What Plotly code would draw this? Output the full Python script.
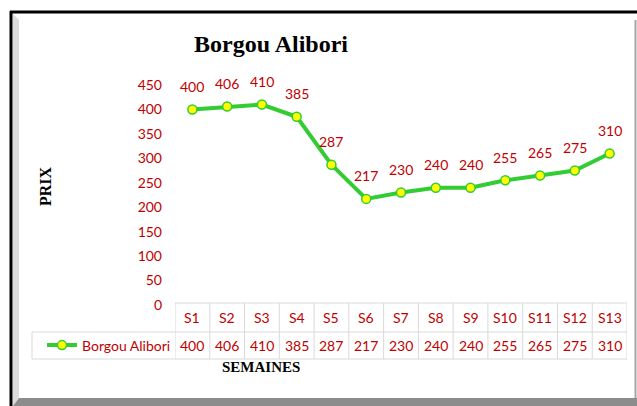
import plotly.graph_objects as go

# ---- data ----
categories = ["S1", "S2", "S3", "S4", "S5", "S6", "S7", "S8", "S9", "S10", "S11", "S12", "S13"]
values = [400, 406, 410, 385, 287, 217, 230, 240, 240, 255, 265, 275, 310]
series_name = "Borgou Alibori"
title_text = "Borgou Alibori"
y_title = "PRIX"
x_title = "SEMAINES"
y_ticks = [0, 50, 100, 150, 200, 250, 300, 350, 400, 450]

# ---- layout constants (pixels) ----
W, H = 637, 406
L, R, T, B = 175, 10, 85, 101
PW, PH = W - L - R, H - T - B
RED = "#C00000"
GREEN = "#33CC33"
GRID = "#D9D9D9"
SANS = "Lato, 'Noto Sans', sans-serif"
SERIF = "'Liberation Serif', 'DejaVu Serif', serif"


def px(p):
    return (p - L) / PW


def py(p):
    return (H - B - p) / PH


fig = go.Figure()
fig.add_trace(go.Scatter(
    x=categories, y=values, name=series_name, mode="lines+markers",
    line=dict(color=GREEN, width=4),
    marker=dict(size=9, color="#FFFF00", line=dict(color=GREEN, width=1.5)),
    cliponaxis=False,
))

shapes = []
# outer frame
shapes.append(dict(type="line", xref="paper", yref="paper", x0=px(10), x1=px(637), y0=py(12), y1=py(12),
                   line=dict(color="black", width=3)))
shapes.append(dict(type="line", xref="paper", yref="paper", x0=px(11), x1=px(11), y0=py(11), y1=py(406),
                   line=dict(color="black", width=3)))
shapes.append(dict(type="path", xref="paper", yref="paper",
                   path=f"M{px(13)},{py(14)} L{px(19)},{py(20)} L{px(19)},{py(398)} L{px(13)},{py(406)} Z",
                   fillcolor="#DCDCDC", line=dict(width=0)))
shapes.append(dict(type="path", xref="paper", yref="paper",
                   path=f"M{px(13)},{py(406)} L{px(19)},{py(398)} L{px(637)},{py(398)} L{px(637)},{py(406)} Z",
                   fillcolor="#8C8C8C", line=dict(width=0)))
shapes.append(dict(type="line", xref="paper", yref="paper", x0=px(635.5), x1=px(635.5), y0=py(20), y1=py(398),
                   line=dict(color="#A6A6A6", width=2)))

# data table grid
for yy, x0 in [(303, 175), (332, 32), (359, 32)]:
    shapes.append(dict(type="line", xref="paper", yref="paper", x0=px(x0), x1=px(627), y0=py(yy), y1=py(yy),
                       line=dict(color=GRID, width=1)))
shapes.append(dict(type="line", xref="paper", yref="paper", x0=px(32), x1=px(32), y0=py(332), y1=py(359),
                   line=dict(color=GRID, width=1)))
for k in range(len(categories) + 1):
    shapes.append(dict(type="line", xref="x", yref="paper", x0=k - 0.5, x1=k - 0.5, y0=py(303), y1=py(359),
                       line=dict(color=GRID, width=1)))

annotations = []
# data labels
for c, v in zip(categories, values):
    annotations.append(dict(x=c, y=v, text=str(v), showarrow=False, yshift=23,
                            xanchor="center", yanchor="middle",
                            font=dict(family=SANS, size=14, color=RED)))
# table text
for c, v in zip(categories, values):
    annotations.append(dict(x=c, xref="x", y=py(317.5), yref="paper", text=c, showarrow=False,
                            xanchor="center", yanchor="middle",
                            font=dict(family=SANS, size=14, color=RED)))
    annotations.append(dict(x=c, xref="x", y=py(345.5), yref="paper", text=str(v), showarrow=False,
                            xanchor="center", yanchor="middle",
                            font=dict(family=SANS, size=14, color=RED)))
# axis titles
annotations.append(dict(x=px(45), xref="paper", y=py(186), yref="paper", text=f"<b>{y_title}</b>",
                        textangle=-90, showarrow=False, xanchor="center", yanchor="middle",
                        font=dict(family=SERIF, size=16, color="black")))
annotations.append(dict(x=px(261), xref="paper", y=py(367), yref="paper", text=f"<b>{x_title}</b>",
                        showarrow=False, xanchor="center", yanchor="middle",
                        font=dict(family=SERIF, size=15, color="black")))

fig.update_layout(
    width=W, height=H,
    margin=dict(l=L, r=R, t=T, b=B),
    paper_bgcolor="white", plot_bgcolor="white",
    title=dict(text=f"<b>{title_text}</b>", x=271 / W, y=1 - 44 / H, xanchor="center", yanchor="middle",
               xref="container", yref="container",
               font=dict(family=SERIF, size=24, color="black")),
    xaxis=dict(range=[-0.5, len(categories) - 0.5], visible=False, fixedrange=True),
    yaxis=dict(range=[0, 450], tickvals=y_ticks, showgrid=False, zeroline=False, showline=False,
               ticks="", ticklabelstandoff=12, fixedrange=True,
               tickfont=dict(family=SANS, size=14, color=RED)),
    showlegend=True,
    legend=dict(x=px(42), y=py(345.5), xanchor="left", yanchor="middle", xref="paper", yref="paper",
                bgcolor="rgba(0,0,0,0)", font=dict(family=SANS, size=14, color=RED),
                itemclick=False, itemdoubleclick=False),
    hovermode=False,
    shapes=shapes,
    annotations=annotations,
)

fig.write_html("out.html", config={"displayModeBar": False},
               post_script="document.body.style.margin='0';")
